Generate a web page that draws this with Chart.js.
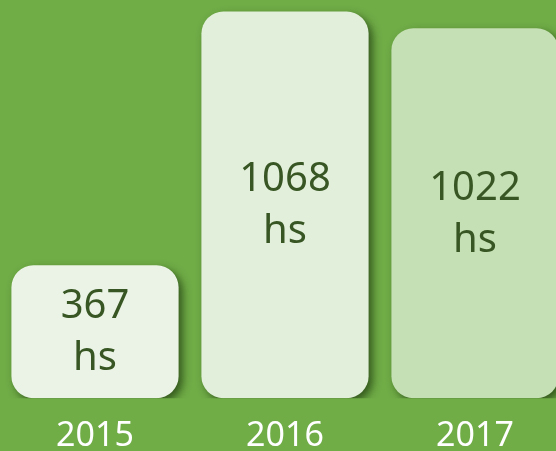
<!DOCTYPE html>
<html>
<head>
<meta charset="utf-8">
<script src="https://cdn.jsdelivr.net/npm/chart.js@4/dist/chart.umd.min.js"></script>
<style>
  html, body { margin: 0; padding: 0; background: #70ad47; overflow: hidden; }
  #wrap { width: 556px; height: 451px; overflow: hidden; position: relative; }
  #box { width: 570px; height: 451px; position: absolute; left: 0; top: 0; }
</style>
</head>
<body>
<div id="wrap"><div id="box"><canvas id="grafico"></canvas></div></div>
<script>
// datos del grafico
const anios = ['2015', '2016', '2017'];
const horas = [367, 1068, 1022];
const unidad = 'hs';

// colores de cada barra
const rellenos = ['#eaf3e5', '#e2efda', '#c5e0b4'];
const verdeTexto = '#375623';

// sombra debajo de las barras
const sombraBarras = {
    id: 'sombraBarras',
    beforeDatasetsDraw(chart) {
        const ctx = chart.ctx;
        ctx.save();
        ctx.shadowColor = 'rgba(35, 65, 18, 0.8)';
        ctx.shadowBlur = 8;
        ctx.shadowOffsetX = 4;
        ctx.shadowOffsetY = 4;
    },
    afterDatasetsDraw(chart) {
        chart.ctx.restore();
    }
};

// etiquetas "valor / hs" centradas dentro de cada barra
const etiquetasBarras = {
    id: 'etiquetasBarras',
    afterDraw(chart) {
        const ctx = chart.ctx;
        const meta = chart.getDatasetMeta(0);
        ctx.save();
        ctx.fillStyle = verdeTexto;
        ctx.font = '40px "Noto Sans"';
        ctx.textAlign = 'center';
        ctx.textBaseline = 'middle';
        meta.data.forEach((bar, i) => {
            const cy = (bar.y + bar.base) / 2;
            ctx.fillText(String(horas[i]), bar.x, cy - 25);
            ctx.fillText(unidad, bar.x, cy + 27);
        });
        ctx.restore();
    }
};

new Chart(document.getElementById('grafico'), {
    type: 'bar',
    data: {
        labels: anios,
        datasets: [{
            data: horas,
            backgroundColor: rellenos,
            borderWidth: 0,
            borderRadius: 22,
            borderSkipped: false,
            barPercentage: 0.88,
            categoryPercentage: 1
        }]
    },
    options: {
        responsive: true,
        maintainAspectRatio: false,
        animation: false,
        layout: { padding: { top: 0, left: 0, right: 0, bottom: -24 } },
        plugins: {
            legend: { display: false },
            tooltip: { enabled: false }
        },
        scales: {
            x: {
                grid: { display: false, drawTicks: false },
                border: { display: false },
                ticks: {
                    color: '#ffffff',
                    padding: 18,
                    font: { family: '"Noto Sans"', size: 34 }
                }
            },
            y: {
                display: false,
                min: 0,
                max: 1100
            }
        }
    },
    plugins: [sombraBarras, etiquetasBarras]
});
</script>
</body>
</html>
